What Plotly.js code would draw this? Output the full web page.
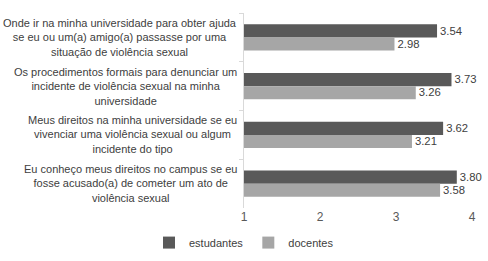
<!DOCTYPE html>
<html>
<head>
<meta charset="utf-8">
<script src="https://cdn.plot.ly/plotly-3.0.1.min.js"></script>
<style>html,body{margin:0;padding:0;background:#fff;}#chart{width:488px;height:261px;}</style>
</head>
<body>
<div id="chart"></div>
<script>
const categories = [
  "Onde ir na minha universidade para obter ajuda<br>se eu ou um(a) amigo(a) passasse por uma<br>situação de violência sexual",
  "Os procedimentos formais para denunciar um<br>incidente de violência sexual na minha<br>universidade",
  "Meus direitos na minha universidade se eu<br>vivenciar uma violência sexual ou algum<br>incidente do tipo",
  "Eu conheço meus direitos no campus se eu<br>fosse acusado(a) de cometer um ato de<br>violência sexual"
];
const estudantes = [3.54, 3.73, 3.62, 3.80];
const docentes = [2.98, 3.26, 3.21, 3.58];
const seriesNames = ["estudantes", "docentes"];
const xTicks = [1, 2, 3, 4];

const font = "Liberation Sans, Arial, sans-serif";
const txtColor = "#404040";

function barTrace(vals, name, color) {
  return {
    type: "bar", orientation: "h", name: name,
    y: categories, x: vals.map(v => v - 1), base: 1,
    marker: {color: color},
    text: vals.map(v => v.toFixed(2)), textposition: "outside",
    textfont: {family: font, size: 12, color: txtColor},
    cliponaxis: false, hoverinfo: "skip"
  };
}

const data = [
  barTrace(estudantes, seriesNames[0], "#595959"),
  barTrace(docentes, seriesNames[1], "#a6a6a6")
];

const annotations = categories.map(c => ({
  xref: "paper", yref: "y", x: -0.022, y: c,
  xanchor: "right", yanchor: "middle", align: "center",
  text: c, showarrow: false,
  font: {family: font, size: 11, color: txtColor}
}));

const layout = {
  width: 488, height: 261,
  margin: {l: 244, r: 16, t: 13, b: 53},
  paper_bgcolor: "#fff", plot_bgcolor: "#fff",
  barmode: "group", bargap: 0.46, bargroupgap: 0,
  font: {family: font, size: 12, color: txtColor},
  xaxis: {
    range: [1, 4], tickvals: xTicks, ticktext: xTicks.map(String),
    showgrid: false, zeroline: false, showline: false, ticks: "",
    tickfont: {family: font, size: 12, color: "#595959"}
  },
  yaxis: {
    autorange: "reversed", showticklabels: false, showgrid: false,
    zeroline: false, showline: true, linecolor: "#d9d9d9", linewidth: 1,
    ticks: "outside", tickson: "boundaries", ticklen: 4, tickcolor: "#d9d9d9"
  },
  showlegend: true,
  legend: {
    orientation: "h", x: 0.5, xanchor: "center", xref: "container",
    y: 0.015, yanchor: "bottom", yref: "container",
    font: {family: font, size: 11, color: txtColor},
    itemwidth: 30, traceorder: "normal"
  },
  annotations: annotations
};

Plotly.newPlot("chart", data, layout, {displayModeBar: false, staticPlot: true});
</script>
</body>
</html>
